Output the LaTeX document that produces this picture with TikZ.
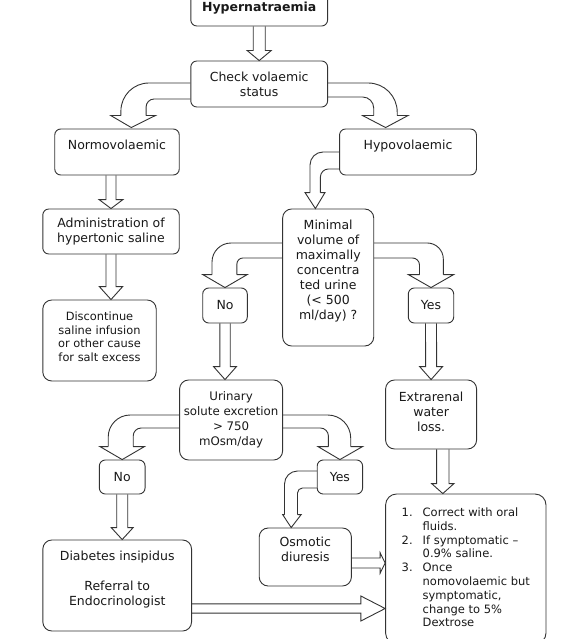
\documentclass[tikz,border=0pt]{standalone}
\usepackage{fontspec}
\setmainfont{DejaVu Sans}
\usetikzlibrary{calc}

\tikzset{
    box/.style={draw=black!80, line width=0.9pt, rounded corners=6pt, align=center,
        text=black!90, inner sep=0pt, font=\fontsize{12.5}{15}\selectfont},
    bigbox/.style={box, rounded corners=9pt},
    blockarrow/.style={draw=black!80, line width=0.9pt}
}

% hollow block arrows: start, tip, half shaft, half head, head length
\newcommand{\blockdown}[5]{%
    \draw[blockarrow] ($(#1)+(-#3,0)$) -- ($(#2)+(-#3,-#5)$) -- ($(#2)+(-#4,-#5)$) -- (#2)
    -- ($(#2)+(#4,-#5)$) -- ($(#2)+(#3,-#5)$) -- ($(#1)+(#3,0)$);}
\newcommand{\blockright}[5]{%
    \draw[blockarrow] ($(#1)+(0,-#3)$) -- ($(#2)+(-#5,-#3)$) -- ($(#2)+(-#5,-#4)$) -- (#2)
    -- ($(#2)+(-#5,#4)$) -- ($(#2)+(-#5,#3)$) -- ($(#1)+(0,#3)$);}

\begin{document}
\begin{tikzpicture}[x=1pt, y=-1pt]
    \fill[white] (0,0) rectangle (583,639);
    \useasboundingbox (0,0) rectangle (583,639);

    \node[box, minimum width=136.8pt, minimum height=35pt] (hyper) at (259.2,8.5) {\bfseries Hypernatraemia};
    \node[box, minimum width=136.8pt, minimum height=46pt] (check) at (259.2,84) {Check volaemic\\status};
    \node[box, minimum width=124.5pt, minimum height=46pt] (normo) at (117,152) {Normovolaemic\\\mbox{}};
    \node[box, minimum width=136.9pt, minimum height=46pt] (hypo) at (408,152) {Hypovolaemic\\\mbox{}};
    \node[box, minimum width=136.4pt, minimum height=45pt] (admin) at (111,231.5) {Administration of\\hypertonic saline};
    \node[bigbox, minimum width=113.4pt, minimum height=81pt, font=\fontsize{11.4}{13.5}\selectfont] (disc) at (99.5,340.5)
        {Discontinue\\saline infusion\\or other cause\\for salt excess\\[-6pt]\mbox{}};
    \node[bigbox, minimum width=91.1pt, minimum height=137pt] (minimal) at (328.2,277.5)
        {Minimal\\volume of\\maximally\\concentra\\ted urine\\(< 500\\ml/day) ?\\\mbox{}};
    \node[box, minimum width=44.6pt, minimum height=35pt] (noA) at (225,305.5) {No};
    \node[box, minimum width=45.4pt, minimum height=35pt] (yesA) at (431,305.5) {Yes};
    \node[bigbox, minimum width=103pt, minimum height=80pt, font=\fontsize{11.8}{15}\selectfont] (urin) at (231.1,420)
        {Urinary\\solute excretion\\> 750\\mOsm/day};
    \node[bigbox, minimum width=91pt, minimum height=69pt] (extra) at (431.1,414.5) {Extrarenal\\water\\loss.\\[-9pt]\mbox{}};
    \node[box, minimum width=45.7pt, minimum height=34pt] (noB) at (122.2,477) {No};
    \node[box, minimum width=45.4pt, minimum height=34pt] (yesB) at (339.9,477) {Yes};
    \node[bigbox, minimum width=92.2pt, minimum height=58pt] (osm) at (305.3,557) {Osmotic\\diuresis\\\mbox{}};
    \node[bigbox, minimum width=148.7pt, minimum height=91pt] (diab) at (117.2,585.5)
        {Diabetes insipidus\\\mbox{}\\Referral to\\Endocrinologist\\\mbox{}};
    \node[bigbox, rounded corners=11pt, minimum width=160.4pt, minimum height=150pt, font=\fontsize{11.5}{13.8}\selectfont] (treat) at (465.8,569)
        {\begin{tabular}{@{}l@{\hspace{10pt}}l@{}}
            1. & Correct with oral\\
               & fluids.\\
            2. & If symptomatic –\\
               & 0.9\% saline.\\
            3. & Once\\
               & nomovolaemic but\\
               & symptomatic,\\
               & change to 5\%\\
               & Dextrose
        \end{tabular}};

    % straight arrows
    \blockdown{hyper.south}{check.north}{6}{12}{10}
    \blockdown{admin.north |- normo.south}{admin.north}{5}{12}{9}
    \blockdown{admin.south}{admin.south |- disc.north}{5}{11.7}{13}
    \blockdown{noA.south}{noA.south |- urin.north}{5.2}{11.5}{13}
    \blockdown{yesA.south}{extra.north}{5.5}{11.5}{13}
    \blockdown{noB.south}{noB.south |- diab.north}{5.5}{11}{12}
    \coordinate (extraout) at ($(extra.south)+(11.7,0)$);
    \blockdown{extraout}{extraout |- treat.north}{6.2}{11.2}{10}
    \coordinate (osmout) at ($(osm.east)+(0,6)$);
    \blockright{osmout}{osmout -| treat.west}{5}{10.2}{5}
    \coordinate (diabout) at ($(diab.east)+(0,23)$);
    \blockright{diabout}{diabout -| treat.west}{4.6}{12.5}{24.3}

    % bent arrows
    \coordinate (normotip) at ($(normo.north)+(14.3,-1)$);
    \draw[blockarrow] ($(check.west)+(0,-1)$) [rounded corners=28pt] -| ($(normotip)+(-10.4,-12)$)
        [sharp corners] ($(normotip)+(-10.4,-12)$) -- ($(normotip)+(-20.5,-12)$) -- (normotip)
        -- ($(normotip)+(24.1,-12)$) -- ($(normotip)+(14.8,-12)$)
        [rounded corners=8pt] ($(normotip)+(14.8,-12)$) |- ($(check.west)+(0,15)$);
    \coordinate (hypotip) at ($(hypo.north)+(-22.4,-1)$);
    \draw[blockarrow] ($(check.east)+(0,-1)$) [rounded corners=29pt] -| ($(hypotip)+(11.6,-12)$)
        [sharp corners] ($(hypotip)+(11.6,-12)$) -- ($(hypotip)+(22.4,-12)$) -- (hypotip)
        -- ($(hypotip)+(-23,-12)$) -- ($(hypotip)+(-11.9,-12)$)
        [rounded corners=11pt] ($(hypotip)+(-11.9,-12)$) |- ($(check.east)+(0,13)$);
    \coordinate (minimaltip) at ($(minimal.north)+(-12.8,0)$);
    \draw[blockarrow] (hypo.west) [rounded corners=13pt] -| ($(minimaltip)+(-5.4,-16)$)
        [sharp corners] ($(minimaltip)+(-5.4,-16)$) -- ($(minimaltip)+(-10.4,-16)$) -- (minimaltip)
        -- ($(minimaltip)+(9.6,-16)$) -- ($(minimaltip)+(5,-16)$)
        [rounded corners=8pt] ($(minimaltip)+(5,-16)$) |- ($(hypo.west)+(0,17)$);
    \draw[blockarrow] ($(minimal.west)+(0,-34.5)$) [rounded corners=19pt] -| ($(noA.north)+(-13,-13)$)
        [sharp corners] ($(noA.north)+(-13,-13)$) -- ($(noA.north)+(-22.3,-13)$) -- (noA.north)
        -- ($(noA.north)+(22.3,-13)$) -- ($(noA.north)+(11.9,-13)$)
        [rounded corners=6pt] ($(noA.north)+(11.9,-13)$) |- ($(minimal.west)+(0,-19.5)$);
    \draw[blockarrow] ($(minimal.east)+(0,-34.5)$) [rounded corners=16pt] -| ($(yesA.north)+(12.3,-13)$)
        [sharp corners] ($(yesA.north)+(12.3,-13)$) -- ($(yesA.north)+(22.7,-13)$) -- (yesA.north)
        -- ($(yesA.north)+(-22.7,-13)$) -- ($(yesA.north)+(-11.5,-13)$)
        [rounded corners=7pt] ($(yesA.north)+(-11.5,-13)$) |- ($(minimal.east)+(0,-19.5)$);
    \draw[blockarrow] ($(urin.west)+(0,-5)$) [rounded corners=22pt] -| ($(noB.north)+(-14,-13)$)
        [sharp corners] ($(noB.north)+(-14,-13)$) -- ($(noB.north)+(-22.3,-13)$) -- (noB.north)
        -- ($(noB.north)+(22.3,-13)$) -- ($(noB.north)+(11,-13)$)
        [rounded corners=8pt] ($(noB.north)+(11,-13)$) |- ($(urin.west)+(0,8)$);
    \draw[blockarrow] ($(urin.east)+(0,-5)$) [rounded corners=23pt] -| ($(yesB.north)+(10.8,-13)$)
        [sharp corners] ($(yesB.north)+(10.8,-13)$) -- ($(yesB.north)+(22.7,-13)$) -- (yesB.north)
        -- ($(yesB.north)+(-22,-13)$) -- ($(yesB.north)+(-11.5,-13)$)
        [rounded corners=8pt] ($(yesB.north)+(-11.5,-13)$) |- ($(urin.east)+(0,8)$);
    \coordinate (osmtip) at ($(osm.north)+(-14.1,0)$);
    \draw[blockarrow] ($(yesB.west)+(0,-6)$) [rounded corners=13pt] -| ($(osmtip)+(-6.7,-13)$)
        [sharp corners] ($(osmtip)+(-6.7,-13)$) -- ($(osmtip)+(-8.6,-13)$) -- (osmtip)
        -- ($(osmtip)+(10,-13)$) -- ($(osmtip)+(6.3,-13)$)
        [rounded corners=5pt] ($(osmtip)+(6.3,-13)$) |- ($(yesB.west)+(0,11)$);
\end{tikzpicture}
\end{document}
